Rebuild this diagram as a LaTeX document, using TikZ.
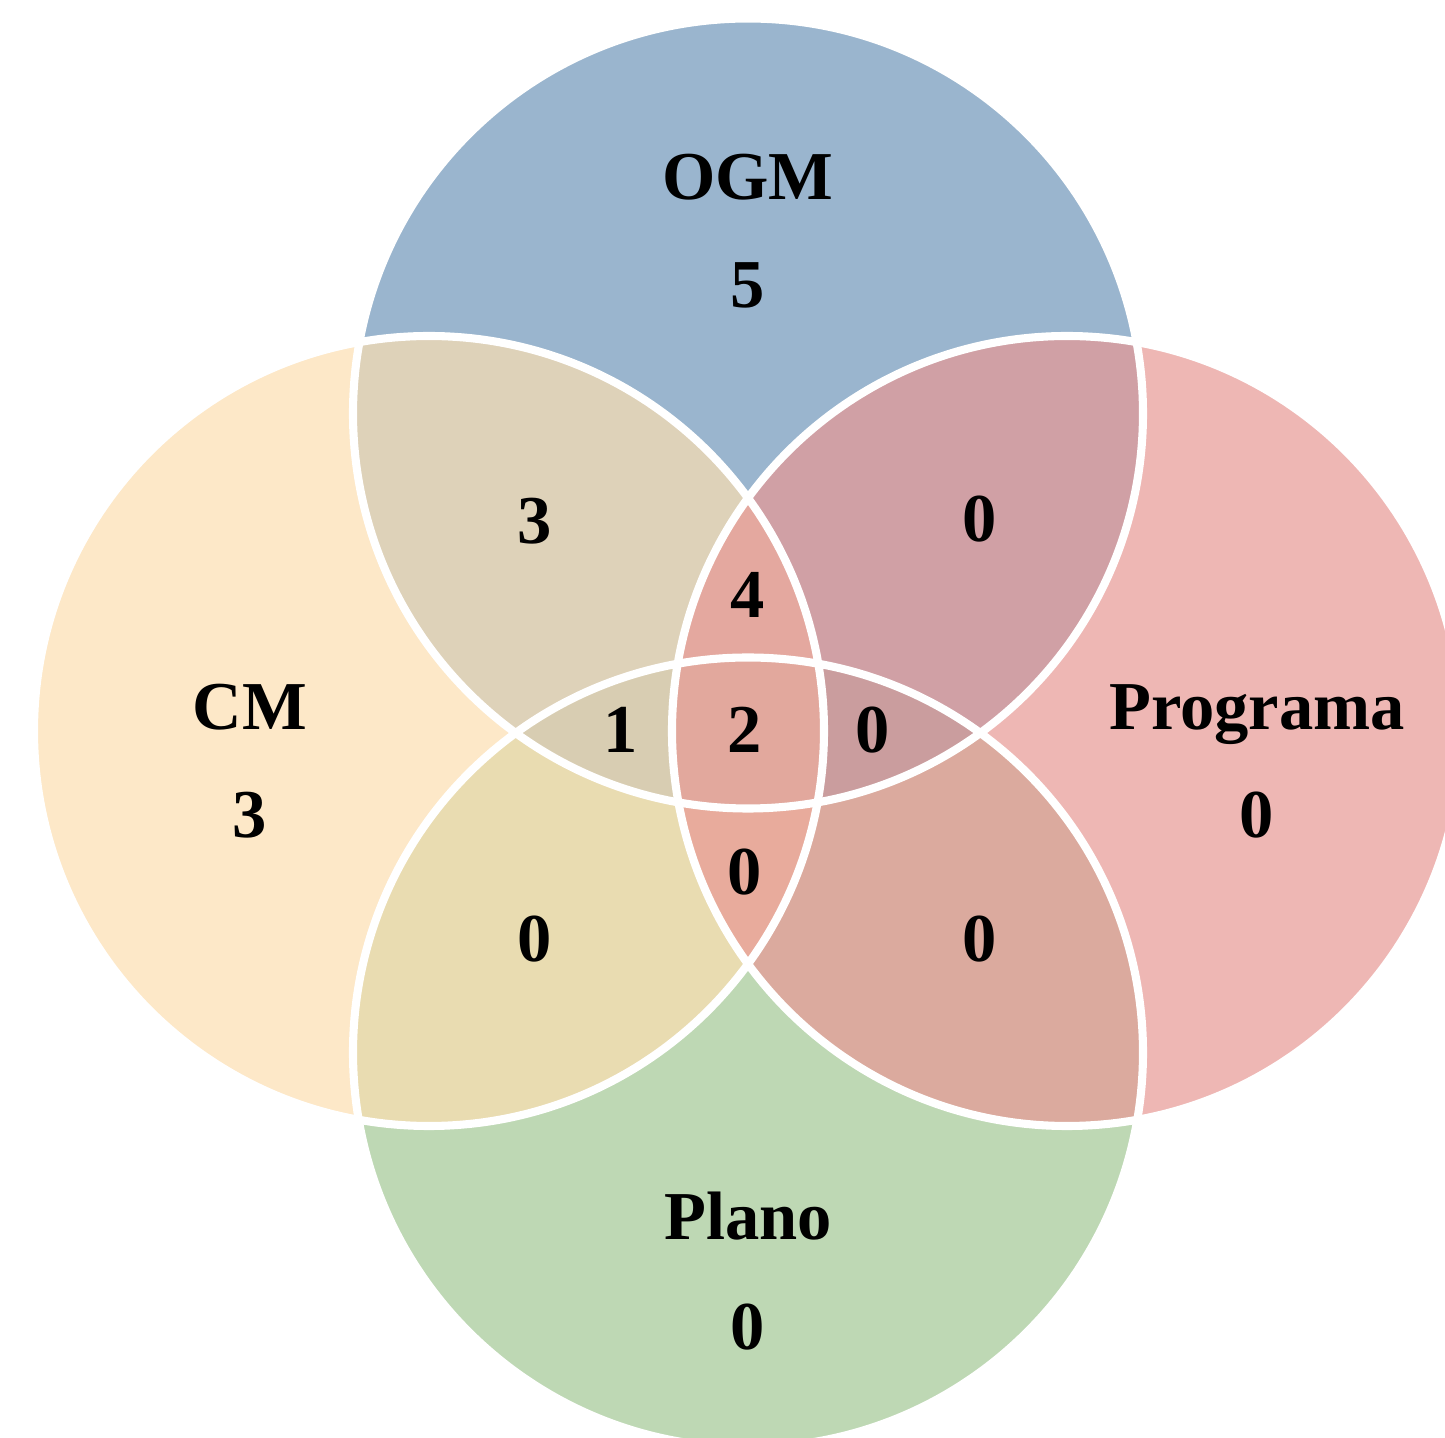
\documentclass[tikz,border=0pt]{standalone}
\usepackage{fontspec}
\setmainfont{Liberation Serif}
\usepackage{xcolor}
\usepackage{tikz}
\usetikzlibrary{calc}
\usetikzlibrary{positioning}

\definecolor{ogmblue}{RGB}{111,149,185}
\definecolor{cmyellow}{RGB}{252,222,176}
\definecolor{progpink}{RGB}{231,152,148}
\definecolor{planogreen}{RGB}{162,199,148}

\begin{document}
\begin{tikzpicture}[semithick]
	\tikzstyle{set}=[circle, draw=none, fill opacity=0.7, minimum size=7.9cm, inner sep=0pt]
	\tikzstyle{rim}=[draw=white, line width=2.3pt]
	\tikzstyle{lbl}=[anchor=base, inner sep=0pt, font=\fontsize{19.5}{23}\selectfont\bfseries]
	\useasboundingbox (0,0) rectangle (14.45,-14.38);
	\clip (0,0) rectangle (14.45,-14.38);
		\node[set, fill=planogreen] (Plano) at (7.48,-10.525) {};
		\node[set, fill=ogmblue]    (OGM)   at (7.48,-4.135)  {};
		\node[set, fill=cmyellow]   (CM)    at (4.29,-7.31)   {};
		\node[set, fill=progpink]   (Prog)  at (10.67,-7.31)  {};
		%white rims on top of all fills
		\foreach \s in {OGM,Plano,CM,Prog}
			\draw[rim] (\s.center) circle (3.95cm);
		% set names and counts
		\node[lbl] (nOGM)   at (7.48,-2.00)  {OGM};
		\node[lbl] (cOGM)   at (7.48,-3.08)  {5};
		\node[lbl] (nCM)    at (2.50,-7.30)  {CM};
		\node[lbl] (cCM)    at (2.50,-8.38)  {3};
		\node[lbl] (nProg)  at (12.57,-7.30) {Programa};
		\node[lbl] (cProg)  at (12.57,-8.38) {0};
		\node[lbl] (nPlano) at (7.48,-12.40) {Plano};
		\node[lbl] (cPlano) at (7.48,-13.50) {0};
		% overlaps
		\node[lbl] (cOC)    at (5.35,-5.44)  {3};
		\node[lbl] (cOP)    at (9.80,-5.42)  {0};
		\node[lbl] (cOCP)   at (7.48,-6.18)  {4};
		\node[lbl] (cOCL)   at (6.21,-7.53)  {1};
		\node[lbl] (cAll)   at (7.45,-7.53)  {2};
		\node[lbl] (cOPL)   at (8.73,-7.53)  {0};
		\node[lbl] (cCPL)   at (7.45,-8.95)  {0};
		\node[lbl] (cCL)    at (5.35,-9.62)  {0};
		\node[lbl] (cPL)    at (9.80,-9.62)  {0};
\end{tikzpicture}
\end{document}
